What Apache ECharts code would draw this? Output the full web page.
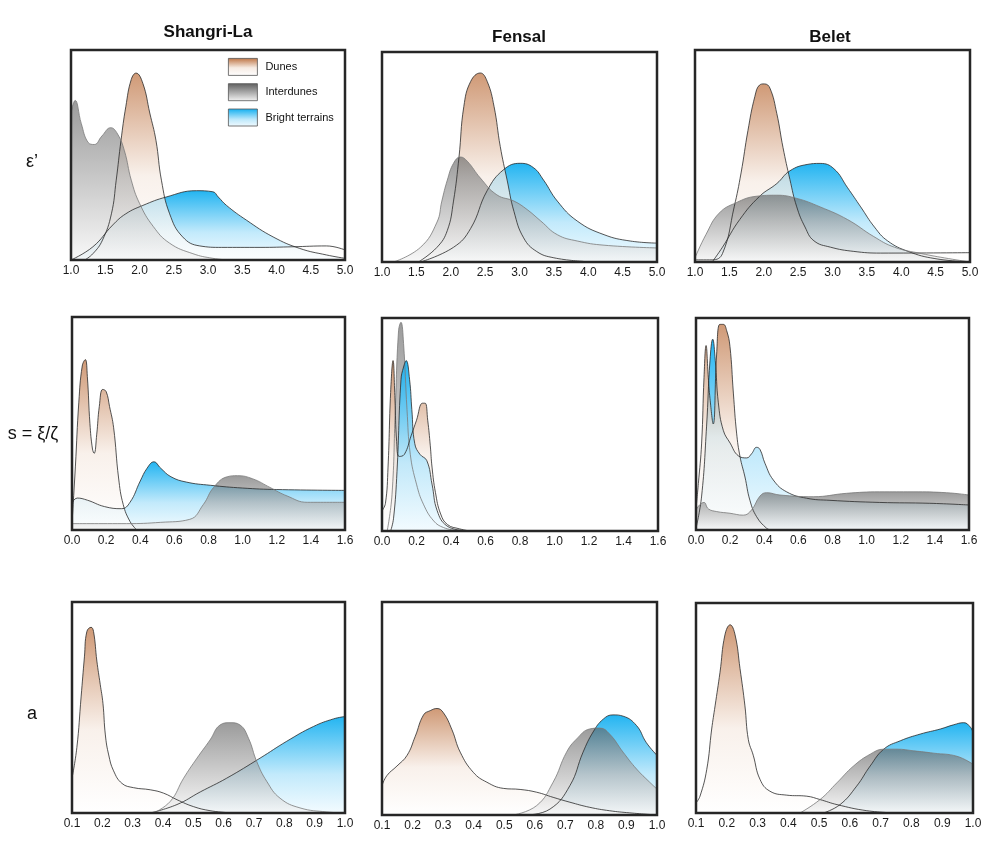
<!DOCTYPE html>
<html>
<head>
<meta charset="utf-8">
<script src="https://cdn.jsdelivr.net/npm/echarts@6/dist/echarts.min.js"></script>
<style>html,body{margin:0;padding:0;background:#fff;}#chart{width:997px;height:841px;}</style>
</head>
<body>
<div id="chart"></div>
<script>
// ---------- categories / labels ----------
const sites = ['Shangri-La', 'Fensal', 'Belet'];
const params = ['ε’', 's = ξ/ζ', 'a'];
const terrains = ['Dunes', 'Interdunes', 'Bright terrains'];
const axisMin = [1, 0, 0.1];
const axisMax = [5, 1.6, 1.0];
const axisStep = [0.5, 0.2, 0.1];

// ---------- densities (relative height, 0-100) ----------
// epsilon'
const eps_SL_dunes = [[1.2,0],[1.32,3],[1.46,9.5],[1.59,22],[1.66,38],[1.73,57],[1.8,73],[1.88,86],[1.95,89],[2.05,84],[2.15,70],[2.24,57],[2.32,38],[2.44,22],[2.63,11],[2.88,6.7],[3.2,6],[3.76,6],[4.24,6.3],[4.73,6.7],[5.0,4.8]];
const eps_SL_inter = [[1.0,70],[1.06,76],[1.15,65],[1.25,56],[1.34,55],[1.45,59],[1.58,63],[1.68,60],[1.78,52],[1.88,38],[2.0,27],[2.2,16],[2.44,8],[2.78,3],[3.07,0.8],[3.3,0]];
const eps_SL_bright = [[1.0,0],[1.32,6.3],[1.61,16.7],[1.8,22],[2.05,26],[2.39,30],[2.83,33],[3.07,32.5],[3.15,30],[3.27,26],[3.56,19],[3.95,11],[4.34,5.5],[4.73,2.4],[5.0,0.8]];

const eps_FE_dunes = [[1.53,0],[1.8,7],[1.95,15],[2.04,29],[2.12,50],[2.19,74],[2.29,86],[2.43,90],[2.53,86],[2.63,74],[2.72,55],[2.82,39],[2.92,24],[3.06,11.5],[3.25,5],[3.5,2],[3.93,0.3]];
const eps_FE_inter = [[1.17,0],[1.56,7],[1.8,19],[1.87,29],[1.95,39],[2.04,47],[2.14,50],[2.24,48],[2.43,40],[2.67,32],[2.92,29],[3.11,25],[3.31,19.5],[3.55,13],[3.84,10],[4.23,8],[5.0,6.7]];
const eps_FE_bright = [[1.56,0],[2.04,7],[2.29,16],[2.53,34],[2.77,44],[3.01,47],[3.2,45],[3.35,39],[3.55,29],[3.84,19.5],[4.23,13],[4.61,10],[5.0,9]];

const eps_BE_dunes = [[1.0,1],[1.25,1],[1.4,4],[1.57,26],[1.67,42],[1.77,62],[1.87,78],[1.94,83.5],[2.01,84],[2.09,82],[2.19,70],[2.28,54],[2.38,39],[2.48,26],[2.6,16.5],[2.73,10],[2.97,7],[3.31,5],[3.7,4.2],[5.0,4.4]];
const eps_BE_inter = [[1.0,2],[1.16,13],[1.35,23],[1.6,28],[1.89,31],[2.19,31.5],[2.48,30],[2.82,26],[3.22,20],[3.6,12],[3.9,7],[4.29,4],[4.69,1.6],[5.0,0]];
const eps_BE_bright = [[1.25,0],[1.4,7],[1.65,20],[1.94,31],[2.19,37],[2.38,43],[2.63,46],[2.82,46.5],[3.02,44],[3.22,35],[3.41,26],[3.61,16.5],[3.8,10],[4.1,5],[4.49,1.6],[5.0,0]];

// s = xi/zeta
const s_SL_dunes = [[0,3],[0.02,30],[0.04,60],[0.06,77],[0.078,80],[0.09,72],[0.105,50],[0.12,38],[0.13,36],[0.145,45],[0.16,58],[0.18,66],[0.2,65],[0.22,58],[0.244,48],[0.273,24.4],[0.3,12],[0.34,4],[0.38,0]];
const s_SL_inter = [[0,3],[0.32,3],[0.52,3.6],[0.69,5],[0.77,12],[0.83,20],[0.91,25],[0.97,25.5],[1.06,24],[1.16,20],[1.26,16],[1.38,13],[1.6,13]];
const s_SL_bright = [[0,12.6],[0.03,15],[0.09,14],[0.19,11],[0.29,10],[0.34,13],[0.4,23],[0.44,29],[0.48,32],[0.52,29],[0.58,25],[0.67,22.5],[0.81,21],[1.0,19.7],[1.2,19],[1.6,18.6]];

const s_FE_dunes = [[0,9.5],[0.02,13],[0.035,30],[0.05,65],[0.064,80],[0.075,62],[0.085,42],[0.1,35],[0.13,36],[0.17,45],[0.2,52],[0.235,60],[0.25,60],[0.265,52],[0.28,40],[0.29,30],[0.31,18],[0.34,8],[0.38,3],[0.45,1],[0.51,0]];
const s_FE_inter = [[0.03,0],[0.058,17],[0.077,57],[0.096,94],[0.11,98],[0.125,88],[0.145,57],[0.164,36],[0.2,22],[0.24,12.6],[0.3,4.7],[0.357,1.6],[0.43,0.3]];
const s_FE_bright = [[0.05,0],[0.067,6],[0.087,28],[0.11,71],[0.125,77],[0.14,80],[0.16,71],[0.173,57],[0.19,41],[0.22,36],[0.26,33],[0.29,22],[0.32,9.5],[0.376,2.4],[0.47,0.3]];

const s_BE_dunes = [[0,10],[0.014,22],[0.033,41],[0.047,72],[0.059,87],[0.072,72],[0.082,62],[0.101,50],[0.121,83],[0.14,97],[0.16,97],[0.18,94],[0.199,86.6],[0.219,64.6],[0.238,45.7],[0.258,34.6],[0.287,25],[0.316,14],[0.355,6.3],[0.414,0.8],[0.44,0]];
const s_BE_inter = [[0,9.5],[0.023,12],[0.047,13],[0.072,10],[0.121,8.7],[0.199,7.9],[0.277,7],[0.326,9.5],[0.375,16],[0.414,17.6],[0.492,16.5],[0.687,15.7],[0.882,17.3],[1.077,18],[1.272,18],[1.467,17.6],[1.6,16.5]];
const s_BE_bright = [[0,0.8],[0.033,16],[0.062,49],[0.082,80],[0.098,90],[0.113,80],[0.131,60],[0.16,47],[0.2,41],[0.248,35],[0.297,34],[0.326,36],[0.355,39],[0.375,38],[0.404,31.5],[0.453,23.6],[0.531,18],[0.648,15],[0.785,14],[1.077,13],[1.37,12.6],[1.6,11.8]];

// albedo a
const a_SL_dunes = [[0.1,16.5],[0.116,31],[0.13,55],[0.141,74],[0.149,86],[0.163,88],[0.171,86],[0.182,72],[0.193,61],[0.202,52],[0.21,37],[0.221,27.5],[0.237,20],[0.265,14],[0.303,12],[0.358,11],[0.402,9.4],[0.446,6.3],[0.501,3],[0.555,1.1],[0.61,0.2]];
const a_SL_inter = [[0.369,0],[0.424,5.5],[0.468,16.5],[0.512,26],[0.555,34.6],[0.588,41.7],[0.621,42.8],[0.654,41.7],[0.682,35.4],[0.709,24.4],[0.742,15],[0.786,7],[0.852,2.4],[0.94,0.5],[1.0,0]];
const a_SL_bright = [[0.358,0],[0.446,4],[0.523,10],[0.61,16.5],[0.72,26],[0.808,34],[0.896,41],[0.962,44.6],[1.0,45.7]];

const a_FE_dunes = [[0.1,13.8],[0.116,18.5],[0.149,23],[0.182,28],[0.209,37],[0.236,47],[0.258,49],[0.28,50],[0.301,48],[0.329,40],[0.356,29.5],[0.399,20],[0.443,15.4],[0.497,12.5],[0.552,12],[0.606,10.7],[0.66,8.3],[0.715,6],[0.78,3.6],[0.845,2],[0.911,1],[1.0,0]];
const a_FE_inter = [[0.53,0],[0.606,4.4],[0.66,15.4],[0.704,29.5],[0.737,35.7],[0.78,40.4],[0.813,40.8],[0.845,38],[0.889,29.5],[0.933,21.6],[0.976,15.4],[1.0,12.2]];
const a_FE_bright = [[0.573,0],[0.65,2.8],[0.715,13.8],[0.758,29.5],[0.791,39],[0.824,45],[0.856,47],[0.889,46.4],[0.933,42],[0.965,34],[1.0,28]];

const a_BE_dunes = [[0.1,4.8],[0.113,8],[0.135,20.8],[0.151,40],[0.162,51],[0.178,67],[0.194,84.8],[0.211,89.6],[0.227,84.8],[0.243,68.8],[0.259,51],[0.27,35],[0.286,27.5],[0.308,16],[0.34,10.4],[0.395,8.5],[0.46,8],[0.503,6.4],[0.558,4],[0.655,1.1],[0.753,0]];
const a_BE_inter = [[0.438,0],[0.503,6.4],[0.558,14.4],[0.612,22.4],[0.666,28],[0.71,30.4],[0.753,30.4],[0.807,29.6],[0.872,28.5],[0.948,27],[1.0,23.2]];
const a_BE_bright = [[0.514,0],[0.568,4],[0.622,12.8],[0.666,22.4],[0.71,30.4],[0.764,34.4],[0.829,37.6],[0.894,40],[0.937,42],[0.97,43],[0.992,40.8],[1.0,38.4]];

// panels in reading order: [dunes, interdunes, bright]
const panels = [
  [eps_SL_dunes, eps_SL_inter, eps_SL_bright],
  [eps_FE_dunes, eps_FE_inter, eps_FE_bright],
  [eps_BE_dunes, eps_BE_inter, eps_BE_bright],
  [s_SL_dunes, s_SL_inter, s_SL_bright],
  [s_FE_dunes, s_FE_inter, s_FE_bright],
  [s_BE_dunes, s_BE_inter, s_BE_bright],
  [a_SL_dunes, a_SL_inter, a_SL_bright],
  [a_FE_dunes, a_FE_inter, a_FE_bright],
  [a_BE_dunes, a_BE_inter, a_BE_bright]
];

// ---------- layout / style ----------
const FONT = "'Liberation Sans', Arial, Helvetica, sans-serif";
const boxes = [
  [71, 50, 274, 210], [382, 52, 275, 210], [695, 50, 275, 212],
  [72, 317, 273, 213], [382, 318, 276, 213], [696, 318, 273, 212],
  [72, 602, 273, 211], [382, 602, 275, 213], [696, 603, 277, 210]
];
function grad(stops) {
  return { type: 'linear', x: 0, y: 0, x2: 0, y2: 1,
    colorStops: stops.map(s => ({ offset: s[0], color: s[1] })) };
}
const fills = [
  [[0, '#bd7241'], [0.55, '#f6ebe3'], [1, '#ffffff']],
  [[0, '#5e5e5e'], [0.55, '#b0b0b0'], [1, '#f4f4f4']],
  [[0, '#10aef0'], [0.6, '#bde8fb'], [1, '#f2fbff']]
];
const fillOpacity = [0.72, 0.62, 0.92];
const solid = ['#bd7241', '#6f6f6f', '#10aef0'];
const lineCol = ['#2a2a2a', '#7a7a7a', '#2a2a2a'];
// stacking order (bottom to top) for each panel
const drawOrders = [[2, 0, 1], [2, 0, 1], [2, 0, 1], [2, 0, 1], [1, 0, 2], [2, 0, 1], [2, 0, 1], [2, 0, 1], [2, 0, 1]];

const grid = [], xAxis = [], yAxis = [], series = [];
boxes.forEach((b, i) => {
  const row = Math.floor(i / 3);
  grid.push({ left: b[0], top: b[1], width: b[2], height: b[3] });
  xAxis.push({
    type: 'value', gridIndex: i, min: axisMin[row], max: axisMax[row], interval: axisStep[row],
    axisLine: { show: false }, axisTick: { show: false }, splitLine: { show: false },
    axisLabel: { formatter: v => v.toFixed(1), fontSize: 12, color: '#1a1a1a', margin: 5,
      fontFamily: FONT, showMinLabel: true, showMaxLabel: true }
  });
  yAxis.push({ type: 'value', gridIndex: i, min: 0, max: 100, show: false });
  drawOrders[i].forEach(k => {
    series.push({
      type: 'line', name: terrains[k], xAxisIndex: i, yAxisIndex: i,
      data: panels[i][k], smooth: 0.45, symbol: 'none', showSymbol: false,
      lineStyle: { color: lineCol[k], width: 0.8 },
      itemStyle: { color: solid[k] },
      areaStyle: { color: grad(fills[k]), opacity: fillOpacity[k] },
      silent: true, animation: false
    });
  });
});

const graphic = [];
const titleX = [208, 519, 830], titleY = [32, 37, 37];
sites.forEach((s, i) => graphic.push({
  type: 'text', x: titleX[i], y: titleY[i], silent: true,
  style: { text: s, align: 'center', verticalAlign: 'middle', fontSize: 17, fontWeight: 'bold', fontFamily: FONT, fill: '#111' }
}));
const rowX = [32, 33, 32], rowY = [162, 434, 714];
params.forEach((p, i) => graphic.push({
  type: 'text', x: rowX[i], y: rowY[i], silent: true,
  style: { text: p, align: 'center', verticalAlign: 'middle', fontSize: 18, fontFamily: FONT, fill: '#111' }
}));
boxes.forEach(b => graphic.push({
  type: 'rect', z: 100, silent: true,
  shape: { x: b[0], y: b[1], width: b[2], height: b[3] },
  style: { fill: 'none', stroke: '#262626', lineWidth: 2.5 }
}));

const chart = echarts.init(document.getElementById('chart'), null, { renderer: 'canvas' });
chart.setOption({
  backgroundColor: '#ffffff',
  animation: false,
  grid, xAxis, yAxis, series, graphic,
  legend: {
    left: 223, top: 53, orient: 'vertical', itemWidth: 29, itemHeight: 17, itemGap: 7.5,
    icon: 'rect', selectedMode: false,
    textStyle: { fontSize: 11, fontFamily: FONT, color: '#111', padding: [0, 0, 0, 3] },
    data: terrains.map((n, k) => ({
      name: n, icon: 'rect',
      itemStyle: { color: grad(fills[k]), borderColor: '#555', borderWidth: 0.8, opacity: 1 }
    }))
  }
});
</script>
</body>
</html>
